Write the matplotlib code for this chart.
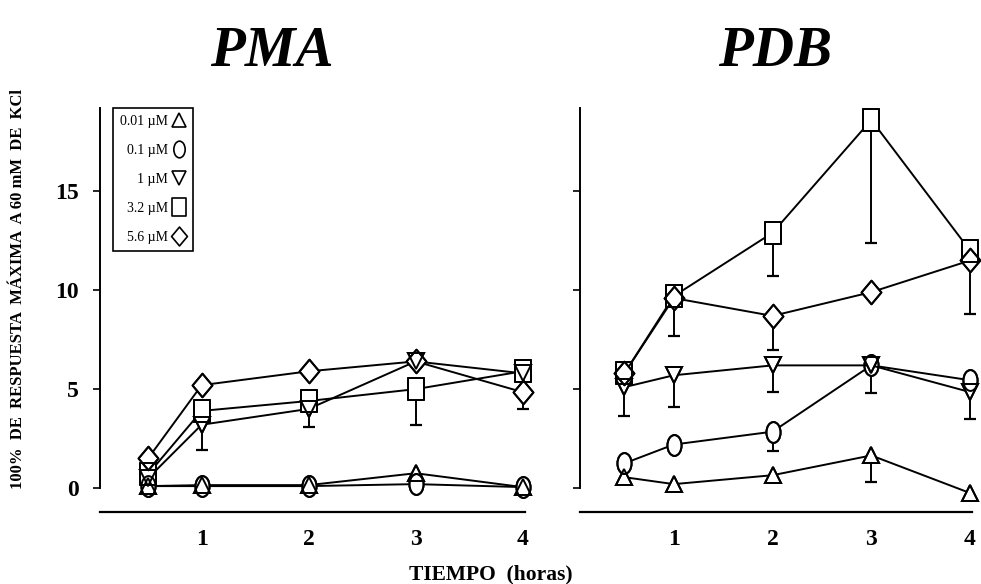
import numpy as np
import matplotlib
matplotlib.use("Agg")
import matplotlib.pyplot as plt
from matplotlib.path import Path
from matplotlib.transforms import Affine2D
from matplotlib.lines import Line2D

plt.rcParams['font.family'] = ['Liberation Serif', 'DejaVu Serif']

horas = [0.5, 1, 2, 3, 4]
etiquetas = ["0.01 µM", "0.1 µM", "1 µM", "3.2 µM", "5.6 µM"]

# PMA (media y error hacia abajo, 0 = sin barra)
pma_001 = [0.1, 0.15, 0.15, 0.75, 0.05]
pma_01 = [0.1, 0.1, 0.1, 0.2, 0.05]
pma_1 = [0.5, 3.2, 4.0, 6.4, 5.8]
pma_32 = [0.7, 3.9, 4.4, 5.0, 5.9]
pma_56 = [1.5, 5.2, 5.9, 6.4, 4.85]
pma_001_err = [0, 0, 0, 0, 0]
pma_01_err = [0, 0, 0, 0, 0]
pma_1_err = [0, 1.3, 0.9, 0, 0]
pma_32_err = [0, 0, 0, 1.8, 0]
pma_56_err = [0, 0, 0, 0, 0.85]

# PDB
pdb_001 = [0.55, 0.2, 0.65, 1.65, -0.25]
pdb_01 = [1.25, 2.2, 2.85, 6.2, 5.45]
pdb_1 = [5.1, 5.7, 6.2, 6.2, 4.85]
pdb_32 = [5.8, 9.7, 12.9, 18.6, 12.0]
pdb_56 = [5.8, 9.6, 8.7, 9.9, 11.5]
pdb_001_err = [0, 0, 0, 1.35, 0]
pdb_01_err = [0, 0, 1.0, 0, 0]
pdb_1_err = [1.45, 1.6, 1.35, 1.4, 1.35]
pdb_32_err = [0, 0, 2.2, 6.2, 0]
pdb_56_err = [0, 1.9, 1.7, 0, 2.7]

# marcadores un poco alargados, como en el original
circ = Path.unit_circle().transformed(Affine2D().scale(0.68, 1.0))
cuad = Path([(-0.38, -0.5), (0.38, -0.5), (0.38, 0.5), (-0.38, 0.5), (-0.38, -0.5)],
            [1, 2, 2, 2, 79])
diam = Path([(0, -0.5), (0.42, 0), (0, 0.5), (-0.42, 0), (0, -0.5)], [1, 2, 2, 2, 79])
marcas = ['^', circ, 'v', cuad, diam]
tams = [12, 15, 12, 16, 17]


def panel(ax, series, errores, xl):
    x = np.array(horas)
    for y, e, m, s in zip(series, errores, marcas, tams):
        y = np.array(y)
        e = np.array(e)
        k = e > 0
        ax.vlines(x[k], y[k] - e[k], y[k], color='black', lw=1.4, zorder=1)
        ax.plot(x[k], y[k] - e[k], ls='none', marker='_', ms=9, mew=1.6, color='black', zorder=1)
        ax.plot(x, y, color='black', lw=1.4, marker=m, ms=s, mfc='white', mec='black', mew=1.4,
                zorder=2, clip_on=False)
    for y, m, s in zip(series, marcas, tams):
        ax.plot(horas, y, ls='none', marker=m, ms=s, mfc='none', mec='black', mew=1.4,
                zorder=3, clip_on=False)
    ax.set_xlim(*xl)
    ax.set_ylim(-0.5, 19.3)
    ax.spines['top'].set_visible(False)
    ax.spines['right'].set_visible(False)
    ax.spines['left'].set_bounds(0, 19.2)
    ax.spines['left'].set_linewidth(1.4)
    ax.spines['bottom'].set_position(('outward', 10))
    ax.spines['bottom'].set_bounds(xl[0] + 0.005, 4.02)
    ax.spines['bottom'].set_linewidth(1.6)
    ax.set_xticks([1, 2, 3, 4])
    ax.set_yticks([0, 5, 10, 15])
    ax.tick_params(axis='x', length=0, pad=12, labelsize=17)
    ax.tick_params(axis='y', length=5, width=1.2, pad=10, labelsize=17)
    for t in ax.get_xticklabels() + ax.get_yticklabels():
        t.set_fontweight('bold')


fig = plt.figure(figsize=(9.81, 5.84), dpi=100)
ax1 = fig.add_axes([0.1019, 0.1473, 0.4417, 0.671])
ax2 = fig.add_axes([0.5912, 0.1473, 0.4057, 0.671])

panel(ax1, [pma_001, pma_01, pma_1, pma_32, pma_56],
      [pma_001_err, pma_01_err, pma_1_err, pma_32_err, pma_56_err], (0.05, 4.1))
panel(ax2, [pdb_001, pdb_01, pdb_1, pdb_32, pdb_56],
      [pdb_001_err, pdb_01_err, pdb_1_err, pdb_32_err, pdb_56_err], (0.05, 4.08))
ax2.tick_params(axis='y', labelleft=False)

fig.text(0.277, 0.887, "PMA", ha='center', va='baseline', fontsize=41,
         fontweight='bold', style='italic')
fig.text(0.79, 0.887, "PDB", ha='center', va='baseline', fontsize=41,
         fontweight='bold', style='italic')

handles = [Line2D([], [], ls='none', marker=m, ms=s * 0.8, mfc='none', mec='black', mew=1.2)
           for m, s in zip(marcas, tams)]
leg = ax1.legend(handles, etiquetas, loc='upper left', bbox_to_anchor=(0.03, 0.995),
                 borderaxespad=0, markerfirst=False, fancybox=False, edgecolor='black',
                 framealpha=1, fontsize=10, labelspacing=1.15, handlelength=1.0,
                 handletextpad=0.3, borderpad=0.5)
leg.get_frame().set_linewidth(1.2)

fig.text(0.018, 0.505, "100%  DE  RESPUESTA  MÁXIMA  A 60 mM  DE  KCl", rotation=90,
         ha='center', va='center', fontsize=12, fontweight='bold')
fig.text(0.5, 0.017, "TIEMPO  (horas)", ha='center', va='center', fontsize=15.5, fontweight='bold')

fig.savefig("out.png", dpi=100)
